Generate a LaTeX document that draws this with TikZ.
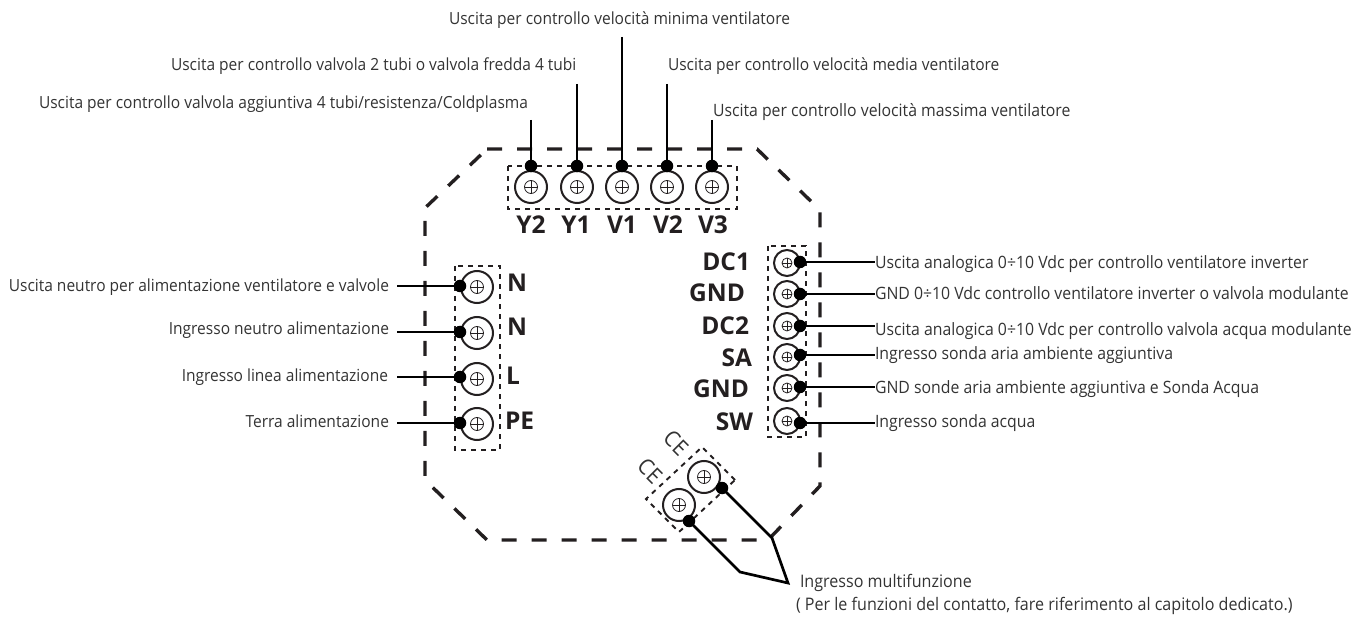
\documentclass[tikz,border=0pt]{standalone}
\usepackage{fontspec}
\setmainfont[FakeStretch=0.93]{Open Sans}
\newfontfamily\boldlab[FakeStretch=1.0]{Open Sans Bold}
\usetikzlibrary{calc}
\definecolor{ink}{HTML}{231F20}
\definecolor{txt}{HTML}{333333}
\tikzset{
  x=1pt,y=-1pt,
  lab/.style={font=\fontsize{17}{19}\selectfont,text=txt,inner sep=0pt,outer sep=0pt},
  labnarrow/.style={lab,font=\fontsize{16.7}{19}\selectfont},
  labwide/.style={lab,font=\fontsize{17.3}{19}\selectfont},
  blab/.style={font=\boldlab\fontsize{24.5}{26}\selectfont,text=ink,inner sep=0pt,outer sep=0pt},
  border/.style={draw=ink,line width=3.4pt,dash pattern=on 15pt off 15pt},
  fine/.style={draw=ink,line width=1.9pt,dash pattern=on 5pt off 5pt},
  wire/.style={draw=black,line width=2.7pt},
  wiredot/.style={circle,fill=black,inner sep=0pt,minimum size=12.5pt},
  screw/.style={circle,draw=ink,line width=2pt,inner sep=0pt,minimum size=#1},
  screw/.default=32pt,
}
\newcommand{\headcross}[2]{%
  \draw[ink,line width=.8pt] (#1) circle (#2pt);
  \draw[ink,line width=.8pt] ($(#1)+(-#2,0)$) -- ($(#1)+(#2,0)$);
  \draw[ink,line width=.8pt] ($(#1)+(0,-#2)$) -- ($(#1)+(0,#2)$);
}
\begin{document}
\begin{tikzpicture}
\useasboundingbox (0,0) rectangle (1368,617);
% enclosure
\draw[border] (487,149) -- (757,149) -- (820,210) -- (820,486) -- (768,540) -- (487,540) -- (425,480) -- (425,208) -- cycle;
% terminal blocks
\draw[fine] (508,166) rectangle (737,209);
\draw[fine] (455,266) rectangle (500,450);
\draw[fine] (768,246) rectangle (806,437);
\draw[fine] (735,480) -- (702,447) -- (646,499) -- (679,532) -- cycle;
% top terminals
\foreach \n/\px in {y2/531,y1/577,v1/622,v2/667,v3/712}{
  \node[screw] (s\n) at (\px,187) {};
  \headcross{\px,187}{6.5}
  \node[wiredot] (d\n) at (\px,166) {};
}
\node[labnarrow,anchor=base west] (ty2) at (39,109) {Uscita per controllo valvola aggiuntiva 4 tubi/resistenza/Coldplasma};
\node[labnarrow,anchor=base west] (ty1) at (171,71) {Uscita per controllo valvola 2 tubi o valvola fredda 4 tubi};
\node[labnarrow,anchor=base west] (tv1) at (449,25) {Uscita per controllo velocità minima ventilatore};
\node[labnarrow,anchor=base west] (tv2) at (668,71) {Uscita per controllo velocità media ventilatore};
\node[lab,anchor=base west] (tv3) at (713,117) {Uscita per controllo velocità massima ventilatore};
\coordinate (ey2) at (531,120);
\coordinate (ey1) at (577,84);
\coordinate (ev1) at (622,37);
\coordinate (ev2) at (667,84);
\coordinate (ev3) at (712,120);
\foreach \n in {y2,y1,v1,v2,v3}{\draw[wire] (e\n) -- (d\n.center);}
\node[blab] (ly2) at (531,225) {Y2};
\node[blab] (ly1) at (576,225) {Y1};
\node[blab] (lv1) at (622,225) {V1};
\node[blab] (lv2) at (668,225) {V2};
\node[blab] (lv3) at (713,225) {V3};
% left terminals
\foreach \n/\py in {a/287,b/333,c/379,d/424}{
  \node[screw] (s\n) at (477,\py) {};
  \headcross{477,\py}{6.5}
}
\node[wiredot] (da) at (460,286) {};
\node[wiredot] (db) at (460,332) {};
\node[wiredot] (dc) at (460,377) {};
\node[wiredot] (dd) at (460,423) {};
\node[labnarrow,anchor=base east] (ta) at (389,292) {Uscita neutro per alimentazione ventilatore e valvole};
\node[labnarrow,anchor=base east] (tb) at (389,335) {Ingresso neutro alimentazione};
\node[labnarrow,anchor=base east] (tc) at (388,382) {Ingresso linea alimentazione};
\node[labnarrow,anchor=base east] (td) at (389,428) {Terra alimentazione};
\coordinate (ea) at (397,286);
\coordinate (eb) at (397,332);
\coordinate (ec) at (397,377);
\coordinate (ed) at (397,423);
\foreach \n in {a,b,c,d}{\draw[wire] (e\n) -- (d\n.center);}
\node[blab,anchor=west] (la) at (507,283) {N};
\node[blab,anchor=west] (lb) at (507,327) {N};
\node[blab,anchor=west] (lc) at (506,376) {L};
\node[blab,anchor=west] (ld) at (505,421) {PE};
% right terminals
\foreach \n/\py/\ly in {p/263/262,q/294/294,r/326/326,s/357/355,t/388/387,u/421/423}{
  \node[screw=26pt] (s\n) at (787,\py) {};
  \headcross{787,\py}{5}
  \node[wiredot] (d\n) at (800,\ly) {};
}
\node[lab,anchor=base west] (tp) at (875,269) {Uscita analogica 0÷10 Vdc per controllo ventilatore inverter};
\node[lab,anchor=base west] (tq) at (875,300) {GND 0÷10 Vdc controllo ventilatore inverter o valvola modulante};
\node[lab,anchor=base west] (tr) at (875,336) {Uscita analogica 0÷10 Vdc per controllo valvola acqua modulante};
\node[lab,anchor=base west] (ts) at (875,360) {Ingresso sonda aria ambiente aggiuntiva};
\node[lab,anchor=base west] (tt) at (875,393) {GND sonde aria ambiente aggiuntiva e Sonda Acqua};
\node[lab,anchor=base west] (tu) at (875,428) {Ingresso sonda acqua};
\foreach \n in {p,q,r,s,t,u}{\draw[wire] (d\n.center) -- (t\n.west |- d\n);}
\node[blab,anchor=east] (lp) at (750,262) {DC1};
\node[blab,anchor=east] (lq) at (745,293) {GND};
\node[blab,anchor=east] (lr) at (749,326) {DC2};
\node[blab,anchor=east] (ls) at (752,358) {SA};
\node[blab,anchor=east] (lt) at (749,389) {GND};
\node[blab,anchor=east] (lu) at (753,422) {SW};
% CE terminals
\node[screw] (sce1) at (704,477) {};
\headcross{704,477}{6.5}
\node[screw] (sce2) at (679,505) {};
\headcross{679,505}{6.5}
\node[wiredot] (dce1) at (722,488) {};
\node[wiredot] (dce2) at (689,521) {};
\node[lab,font=\fontsize{22}{24}\selectfont,rotate=-45] (lce1) at (676,443) {CE};
\node[lab,font=\fontsize{22}{24}\selectfont,rotate=-45] (lce2) at (650,471) {CE};
\coordinate (tip) at (788,583);
\draw[wire,line join=miter] (dce1.center) -- (772,538) -- (tip) -- (740,572) -- (dce2.center);
\node[labwide,anchor=base west] (tm1) at (800,587) {Ingresso multifunzione};
\node[labwide,anchor=base west] (tm2) at (796,610) {( Per le funzioni del contatto, fare riferimento al capitolo dedicato.)};
\end{tikzpicture}
\end{document}
